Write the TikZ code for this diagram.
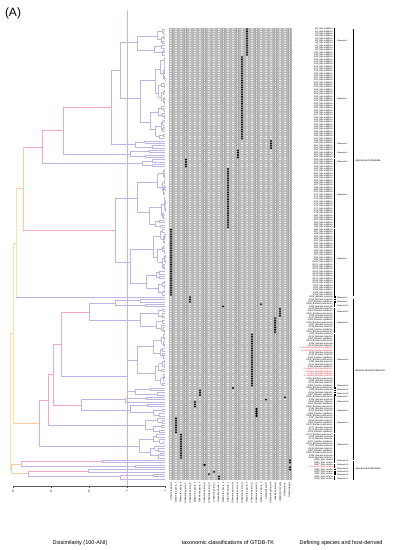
\documentclass[tikz,border=0pt]{standalone}
\usepackage{fontspec}
\setmainfont{Liberation Sans}
\usetikzlibrary{positioning}
\definecolor{tpurple}{RGB}{192,180,226}
\definecolor{tpink}{RGB}{240,168,198}
\definecolor{torange}{RGB}{249,204,164}
\definecolor{tyellow}{RGB}{247,228,168}
\definecolor{cutred}{RGB}{244,170,170}
\definecolor{hostred}{RGB}{232,32,44}

\tikzset{
  br/.style={line width=0.4pt},
  lf/.style={br, tpurple},
  ring/.style={gray!85, line width=2.3pt, line cap=round, dash pattern=on 0.01pt off 2.32pt},
  hole/.style={white, line width=1.75pt, line cap=round, dash pattern=on 0.01pt off 2.32pt},
  hit/.style={black, line width=2.1pt, line cap=round, dash pattern=on 0.01pt off 2.32pt},
  splab/.style={font=\fontsize{2.2}{2.4}\selectfont, inner sep=0.3pt, anchor=east},
  grplab/.style={font=\fontsize{1.9}{2.1}\selectfont, inner sep=0.3pt, anchor=west},
  hostlab/.style={font=\fontsize{2.4}{2.6}\selectfont, inner sep=0.3pt, anchor=west},
  collab/.style={font=\fontsize{2.2}{2.4}\selectfont, inner sep=0.3pt, rotate=90, anchor=east},
  ticklab/.style={font=\fontsize{2.4}{2.6}\selectfont, inner sep=0.3pt, rotate=90, anchor=east},
  title/.style={font=\fontsize{5.5}{6.5}\selectfont, inner sep=0pt}
}

% one branch of a generated sub-tree: rows #1..#2, parent at x=#3
\newcommand\dbranch[3]{%
  \begingroup
  \edef\dra{#1}\edef\drb{#2}\edef\dxp{#3}%
  \ifnum\dra=\drb\relax
    \draw[lf] (\dxp,{29.165+2.33*\dra}) -- (165,{29.165+2.33*\dra});%
  \else
    \pgfmathsetmacro\dxn{\dxp+(165-\dxp)*(0.3+0.45*rnd)}%
    \pgfmathtruncatemacro\dmid{\dra+int((\drb-\dra)*(0.3+0.4*rnd))}%
    \pgfmathtruncatemacro\dnext{\dmid+1}%
    \draw[lf] (\dxp,{29.165+1.165*(\dra+\drb)}) -- (\dxn,{29.165+1.165*(\dra+\drb)});%
    \draw[lf] (\dxn,{29.165+1.165*(\dra+\dmid)}) -- (\dxn,{29.165+1.165*(\dnext+\drb)});%
    \dbranch{\dra}{\dmid}{\dxn}%
    \dbranch{\dnext}{\drb}{\dxn}%
  \fi
  \endgroup}

% clade of rows #1..#2 with its node at x=#3
\newcommand\dclade[3]{%
  \begingroup
  \edef\dra{#1}\edef\drb{#2}\edef\dxn{#3}%
  \pgfmathtruncatemacro\dmid{\dra+int((\drb-\dra)*(0.3+0.4*rnd))}%
  \pgfmathtruncatemacro\dnext{\dmid+1}%
  \draw[lf] (\dxn,{29.165+1.165*(\dra+\dmid)}) -- (\dxn,{29.165+1.165*(\dnext+\drb)});%
  \dbranch{\dra}{\dmid}{\dxn}%
  \dbranch{\dnext}{\drb}{\dxn}%
  \endgroup}

% join: x, y upper, y lower, x upper child, x lower child, colours
\newcommand\djoin[8]{%
  \draw[br,#6] (#1,#2) -- (#4,#2);
  \draw[br,#7] (#1,#2) -- (#1,#3);
  \draw[br,#8] (#1,#3) -- (#5,#3);}

\begin{document}
\begin{tikzpicture}[x=1pt, y=-1pt]
  \useasboundingbox (0,0) rectangle (393,550);
  \fill[white] (0,0) rectangle (393,550);
  \pgfmathsetseed{11}

  % cut line
  \draw[cutred, line width=0.35pt] (127,10) -- (127,486);

  % Dendrogram, Apis part
  \dclade{0}{11}{137}
  \dclade{12}{47}{140}
  \djoin{120}{41.98}{97.9}{137}{140}{tpurple}{tpurple}{tpurple}
  \dclade{48}{51}{135}
  \djoin{111}{69.94}{144.5}{120}{135}{tpurple}{tpurple}{tpurple}
  \dclade{52}{55}{130}
  \djoin{63}{107.22}{153.82}{111}{130}{tpink}{tpink}{tpurple}
  \dclade{56}{59}{142}
  \djoin{42}{130.51}{163.14}{63}{142}{tpink}{tpink}{tpurple}
  \dclade{60}{85}{137}
  \dclade{86}{114}{130}
  \djoin{115}{198.09}{262.17}{137}{130}{tpurple}{tpurple}{tpurple}
  \djoin{23}{146.8}{230.15}{42}{115}{tpink}{torange}{tpink}
  \djoin{16}{188.5}{297.12}{23}{165}{torange}{tyellow}{tpurple}
  % Bombus part
  \dclade{116}{117}{140}
  \dclade{118}{119}{145}
  \djoin{115}{300.61}{305.27}{140}{145}{tpurple}{tpurple}{tpurple}
  \dclade{120}{130}{140}
  \djoin{89}{302.95}{320.42}{115}{140}{tpurple}{tpurple}{tpurple}
  \dclade{131}{153}{137}
  \dclade{154}{157}{135}
  \djoin{127}{360.03}{391.48}{137}{135}{tpurple}{tpurple}{tpurple}
  \djoin{61}{311.7}{375.75}{89}{127}{tpink}{tpink}{tpurple}
  \dclade{158}{160}{125}
  \dclade{161}{166}{130}
  \djoin{81}{399.64}{410.12}{125}{130}{tpurple}{tpurple}{tpurple}
  \djoin{53}{343.7}{404.85}{61}{81}{tpink}{tpink}{tpink}
  \dclade{167}{173}{145}
  \djoin{48}{374.3}{425.27}{53}{145}{tpink}{tpink}{tpurple}
  \dclade{174}{184}{139}
  \djoin{39}{399.8}{446.24}{48}{139}{tpink}{tpink}{tpurple}
  \djoin{13}{242.8}{423.0}{16}{39}{torange}{tyellow}{torange}
  % second Apis part
  \dclade{185}{186}{102}
  \dclade{187}{188}{135}
  \djoin{21}{461.38}{466.04}{102}{135}{tpink}{tpink}{tpurple}
  \dclade{189}{190}{88}
  \dclade{191}{193}{120}
  \djoin{28}{470.7}{476.53}{88}{120}{tpink}{tpink}{tpurple}
  \djoin{11}{463.7}{473.6}{21}{28}{torange}{torange}{torange}
  \djoin{10}{332.9}{468.65}{13}{11}{torange}{tyellow}{torange}

  % Axis
  \draw[line width=0.35pt, gray!70!black] (13,486) -- (165,486);
  \foreach \v in {0,5,10,15,20}{
    \draw[line width=0.35pt, gray!70!black] ({165-7.6*\v},486) -- ++(0,2.2);
    \node[ticklab] (tick\v) at ({165-7.6*\v},489.5) {\v};
  }

  % Classification grid
  \fill[gray!55] (169,28) rectangle (292,480);
  \foreach \c in {0,...,25}{
    \draw[ring] ({171.365+4.73*\c},29.165) -- ({171.365+4.73*\c},479.2);
    \draw[hole] ({171.365+4.73*\c},29.165) -- ({171.365+4.73*\c},479.2);
  }
  \foreach \c/\ra/\rb in {16/0/11, 15/12/47, 21/48/51, 14/52/55, 3/56/59, 12/60/85,
      0/86/114, 4/115/117, 19/118/118, 11/119/119, 23/120/123, 22/124/130,
      17/131/153, 13/154/154, 6/155/157, 24/158/158, 20/159/159, 5/160/162,
      18/163/166, 1/167/173, 2/174/184, 25/185/186, 7/187/187, 25/188/189,
      9/190/190, 8/191/191, 10/192/193}{
    \draw[hit] ({171.365+4.73*\c},{29.165+2.33*\ra}) -- ({171.365+4.73*\c},{29.165+2.33*\rb+0.2});
  }
  \foreach \nm [count=\c from 0] in {Gilliamella apicola, Gilliamella apicola\_A,
      Gilliamella apicola\_B, Gilliamella apicola\_C, Gilliamella apicola\_D,
      Gilliamella apicola\_E, Gilliamella apicola\_F, Gilliamella apicola\_G,
      Gilliamella apicola\_H, Gilliamella apicola\_I, Gilliamella apicola\_J,
      Gilliamella apicola\_K, Gilliamella apicola\_L, Gilliamella apicola\_M,
      Gilliamella apicola\_N, Gilliamella apicola\_O, Gilliamella apicola\_P,
      Gilliamella apicola\_Q, Gilliamella apicola\_R, Gilliamella apicola\_S,
      Gilliamella bombi, Gilliamella bombicola, Gilliamella intestini,
      Gilliamella mensalis, Gilliamella sp., Gilliamella apis}{
    \node[collab] (col\c) at ({171.365+4.73*\c},482) {\nm};
  }

  % Species labels
  \foreach \r in {0,...,193}{
    \pgfmathtruncatemacro\isred{(\r==137)||(\r==138)||(\r>145 && \r<150)||(\r==188)}
    \pgfmathtruncatemacro\k{mod(\r,4)}
    \ifnum\r<115 \def\sp{Apis mellifera}\else
      \ifnum\r<185
        \ifcase\k \def\sp{Bombus terrestris}\or \def\sp{Bombus lapidarius}\or
          \def\sp{Bombus pascuorum}\or \def\sp{Bombus sylvicola}\fi
      \else \def\sp{Apis cerana}\fi
    \fi
    \ifnum\isred=0
      \node[splab] (sp\r) at (333,{29.165+2.33*\r}) {G\r\_\sp};
    \fi
  }
  \foreach \r/\txt in {137/G. bombicola\_Bombus lapidarius, 138/G. mensalis\_Bombus lapidarius,
      146/G. intestini\_Bombus terrestris, 147/G. bombi\_Bombus terrestris,
      148/G. apis\_Bombus terrestris, 149/G. apicola\_Bombus terrestris,
      188/G. apicola\_Apis cerana}{
    \node[splab, text=hostred] (sp\r) at (333,{29.165+2.33*\r}) {\txt};
  }

  % Sub-groups
  \foreach \g/\ga/\gb/\gy in {1/0/11/41, 2/12/47/99, 3/48/51/144, 4/52/55/153,
      5/56/59/162, 6/60/85/195, 7/86/114/259, 8/115/115/298, 9/116/116/302,
      10/117/117/306, 11/118/119/312, 12/120/130/323, 13/131/153/360,
      14/154/154/386, 15/155/155/390, 16/156/156/394, 17/157/157/397,
      18/158/160/402, 19/161/166/411, 20/167/173/423, 21/174/184/445,
      22/185/186/461, 23/187/188/465, 24/189/189/469, 25/190/190/472,
      26/191/191/475, 27/192/193/479}{
    \ifnum\ga=\gb
      \draw[line width=1.1pt] (335,{29.165+2.33*\ga-0.8}) -- (335,{29.165+2.33*\ga+0.8});
    \else
      \draw[line width=0.3pt] (334.5,{29.165+2.33*\ga-0.9}) -- (334.5,{29.165+2.33*\gb+0.9});
    \fi
    \node[grplab] (grp\g) at (336.5,\gy) {Gilliamella-\g};
  }

  % Host groups
  \draw[line width=0.35pt] (353,28.5) -- (353,296);
  \draw[line width=0.35pt] (353,298.5) -- (353,459.5);
  \draw[line width=0.35pt] (353,460.5) -- (353,480);
  \node[hostlab] (apisone) at (355,161) {\textit{Apis}-derived \textit{Gilliamella}};
  \node[hostlab] (bombus) at (355,371) {\textit{Bombus}-derived \textit{Gilliamella}};
  \node[hostlab] (apistwo) at (355,469) {\textit{Apis}-derived \textit{Gilliamella}};

  % Titles
  \node[font=\fontsize{12}{14}\selectfont, inner sep=0pt] (panel) at (13,13) {(A)};
  \node[title] (axtitle) at (80,543) {Dissimilarity (100-ANI)};
  \node[title] (gridtitle) at (228,543) {taxonomic classifications of GTDB-TK};
  \node[title] (hosttitle) at (341,543) {Defining species and host-derived};
\end{tikzpicture}
\end{document}
